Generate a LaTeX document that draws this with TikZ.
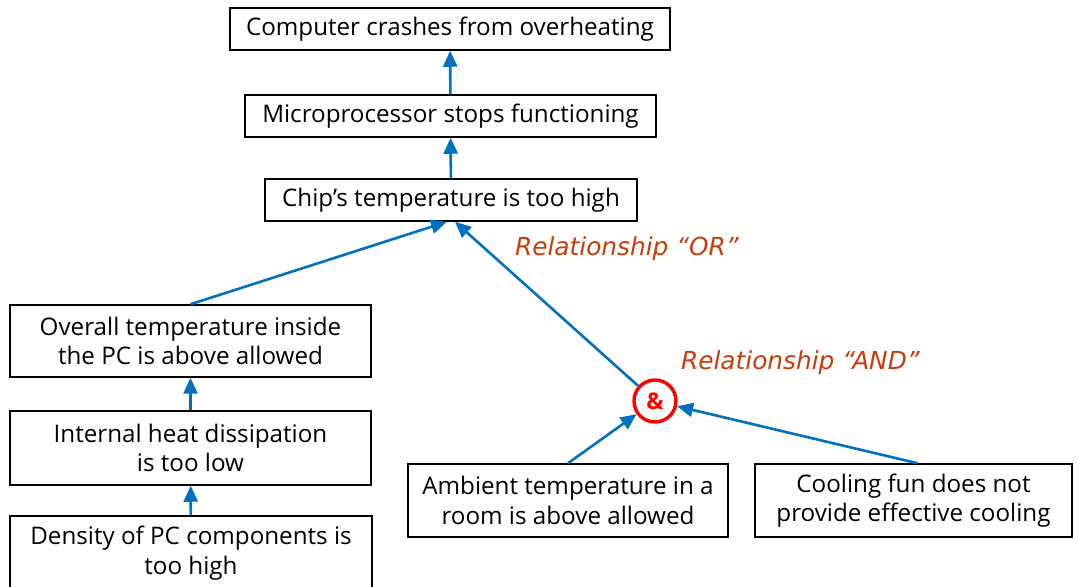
\documentclass[tikz,border=0pt]{standalone}
\usepackage{fontspec}
\setmainfont{Open Sans}
\newfontfamily\relfont{DejaVu Sans}
\usetikzlibrary{arrows.meta}

\definecolor{arrowblue}{HTML}{0070C0}
\definecolor{relred}{HTML}{C83C0A}

\tikzset{
  event/.style={draw, line width=0.75pt, fill=white, align=center, inner sep=0pt,
                font=\fontsize{12.1}{14.8}\selectfont},
  cause/.style={-{Triangle[length=8pt,width=7pt]}, draw=arrowblue, fill=arrowblue, line width=1.3pt},
  gate/.style={circle, draw=red, line width=1.7pt, fill=white, text=red, minimum size=21pt,
               inner sep=0pt, font=\bfseries\fontsize{11.5}{13}\selectfont},
  rel/.style={text=relred, font=\relfont\itshape\fontsize{12.4}{14}\selectfont}
}

\begin{document}
\begin{tikzpicture}[x=0.5pt,y=-0.5pt]
  \useasboundingbox (0,0) rectangle (1078,587);

  \node[event, minimum width=220pt, minimum height=21pt] (crash) at (450,29)
    {Computer crashes from overheating};
  \node[event, minimum width=205.5pt, minimum height=21pt] (micro) at (450.5,116)
    {Microprocessor stops functioning};
  \node[event, minimum width=186pt, minimum height=21pt] (chip) at (451,200)
    {Chip's temperature is too high};

  \node[event, minimum width=180.5pt, minimum height=36pt] (overall) at (190.5,341)
    {Overall temperature inside\\the PC is above allowed};
  \node[event, minimum width=180.5pt, minimum height=37pt] (dissip) at (190.5,448)
    {Internal heat dissipation\\is too low};
  \node[event, minimum width=181pt, minimum height=37pt] (density) at (191,553)
    {Density of PC components is\\too high};

  \node[event, minimum width=160pt, minimum height=36.5pt] (ambient) at (568,500.5)
    {Ambient temperature in a\\room is above allowed};
  \node[event, minimum width=158.5pt, minimum height=36.5pt] (cooling) at (913.5,500.5)
    {Cooling fun does not\\provide effective cooling};

  \node[gate] (andgate) at (655,401) {\&};

  \node[rel, anchor=west] (orlabel) at (508,249) {Relationship “OR”};
  \node[rel, anchor=west] (andlabel) at (674,363) {Relationship “AND”};

  % arrows
  \draw[cause] (micro) -- (crash);
  \draw[cause] (chip) -- (micro);
  \draw[cause] (overall.north) -- ([xshift=-2pt]chip.south);
  \draw[cause] (andgate) -- ([xshift=2pt]chip.south);
  \draw[cause] (ambient.north) -- (andgate);
  \draw[cause] ([xshift=2pt]cooling.north) -- (andgate);
  \draw[cause] (dissip) -- (overall);
  \draw[cause] (density) -- (dissip);
\end{tikzpicture}
\end{document}
